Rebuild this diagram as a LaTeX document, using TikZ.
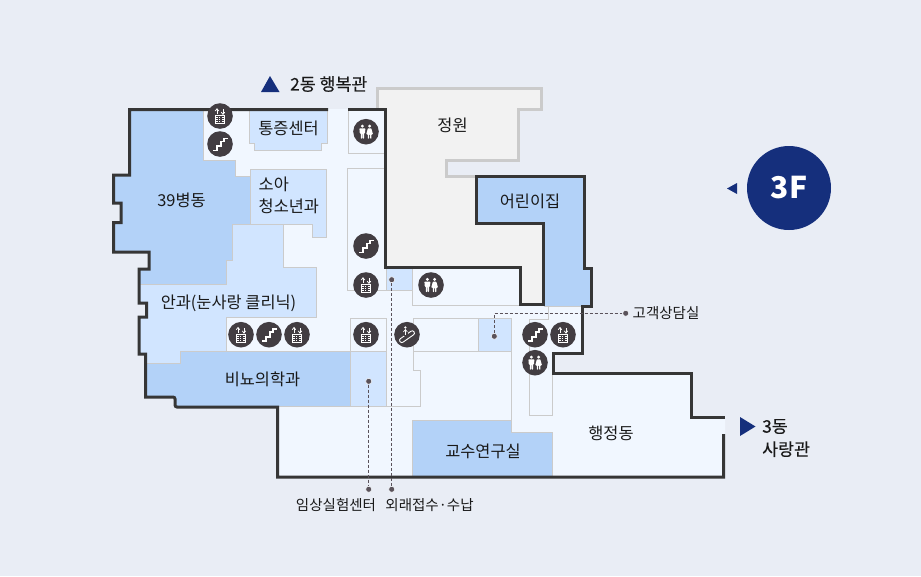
\documentclass[tikz,border=0pt]{standalone}
\usepackage{fontspec}
\setmainfont{Noto Sans CJK KR}
\newfontfamily\medfont[FakeBold=0.35]{Noto Sans CJK KR}
\definecolor{bg}{HTML}{E9EDF5}
\definecolor{inner}{HTML}{F1F7FF}
\definecolor{dkblue}{HTML}{B3D2F8}
\definecolor{ltblue}{HTML}{D1E5FF}
\definecolor{garden}{HTML}{F2F2F2}
\definecolor{grayline}{HTML}{CBCBCB}
\definecolor{wall}{HTML}{363636}
\definecolor{iconbg}{HTML}{423D42}
\definecolor{navy}{HTML}{152F7C}
\definecolor{lead}{HTML}{5A525A}
\tikzset{
  x=1pt,y=-1pt,
  wallline/.style={draw=wall,line width=3pt,line join=miter},
  room/.style={draw=grayline,line width=1pt},
  iconc/.style={circle,fill=iconbg,minimum size=25.6pt,inner sep=0pt,draw=none},
  lbl/.style={font=\fontsize{16.4}{22}\selectfont,text=black!90,inner sep=0pt,align=left},
  bigl/.style={font=\fontsize{17.3}{23}\selectfont\medfont,text=black!90,inner sep=0pt,align=left},
  smalllbl/.style={font=\fontsize{14.5}{17}\selectfont,text=black!90,inner sep=0pt},
  leaddot/.style={circle,fill=lead,minimum size=6pt,inner sep=0pt,draw=white!60!inner,line width=.5pt},
  leader/.style={draw=lead,line width=1pt,dash pattern=on 3pt off 2pt},
  elev/.pic={
    \fill[white] (-4.7,-1.2) rectangle (4.7,7.8);
    \fill[iconbg] (-3.7,.2) rectangle (3.7,1.4);
    \draw[iconbg,line width=.6pt] (-3.7,2.7)--(3.7,2.7) (-3.7,4.4)--(3.7,4.4) (-3.7,6.1)--(3.7,6.1);
    \draw[iconbg,line width=.6pt] (-1.7,1.4)--(-1.7,6.8) (0,1.4)--(0,6.8) (1.7,1.4)--(1.7,6.8);
    \draw[white,line width=.9pt] (-3,-1.8)--(-3,-7) (3,-1.8)--(3,-7);
    \draw[white,line width=.8pt] (-4.7,-5)--(-3,-7.2)--(-1.3,-5) (1.3,-3.8)--(3,-1.6)--(4.7,-3.8);
  },
  stairsicon/.pic={
    \draw[white,line width=1.6pt,line join=miter] (-7,6.5)--(-3,6.5)--(-3,2)--(1,2)--(1,-2.5)--(4,-2.5)--(4,-5.5)--(7.5,-5.5);
  },
  wcicon/.pic={
    \fill[white] (-3.6,-5.6) circle (1.6) (3.6,-5.6) circle (1.6);
    \fill[white,rounded corners=.6pt] (-6.6,-3.4)--(-.6,-3.4)--(-1,1.6)--(-2,1.6)--(-2,7)--(-3.3,7)--(-3.3,2)--(-3.9,2)--(-3.9,7)--(-5.2,7)--(-5.2,1.6)--(-6.2,1.6)--cycle;
    \fill[white,rounded corners=.6pt] (1.9,-3.4)--(5.3,-3.4)--(7,2.6)--(5.4,2.6)--(5.4,7)--(4.1,7)--(4.1,2.8)--(3.1,2.8)--(3.1,7)--(1.8,7)--(1.8,2.6)--(.2,2.6)--cycle;
  },
  escicon/.pic={
    \draw[white,line width=.9pt,rounded corners=2pt,shift={(0,2)},rotate=35] (-8.5,-2.2) rectangle (8.5,2.2);
    \fill[iconbg] (-3.2,-2.5) rectangle (.8,1.5);
    \fill[white] (-1.6,-7.2) circle (1.3);
    \draw[white,line width=1.4pt] (-1.6,-5.2)--(-1.6,.5);
    \draw[white,line width=.7pt] (-3.6,-2.7)--(-1.6,-5.2)--(.4,-2.7);
  },
}
\begin{document}
\begin{tikzpicture}
\useasboundingbox (0,0) rectangle (921,576);
\fill[bg] (0,0) rectangle (921,576);
% garden
\filldraw[fill=garden,draw=grayline,line width=3pt] (377.5,109.5)--(377.5,88.5)--(541.5,88.5)--(541.5,109.5)--(518,109.5)--(518,160)--(446.5,160)--(446.5,176.5)--(476.5,176.5)--(476.5,223)--(543.5,223)--(543.5,304)--(520.5,304)--(520.5,267)--(385.5,267)--(385.5,109.5)--cycle;
% interior
\fill[inner] (129.5,109)--(385.5,109)--(385.5,267)--(520.5,267)--(520.5,304)--(543.5,304)--(543.5,306)--(582,306)--(582,353.5)--(553,353.5)--(553,373)--(691.5,373)--(691.5,417)--(725,417)--(725,434)--(723.7,434)--(723.7,477)--(277.5,477)--(277.5,407)--(175,407)--(175,397)--(145.5,397)--(145.5,354)--(139,354)--(139,317)--(146.7,317)--(146.7,303)--(139,303)--(139,269)--(149,269)--(149,252)--(113.5,252)--(113.5,222.5)--(121,222.5)--(121,203)--(113.5,203)--(113.5,175)--(129.5,175)--cycle;
% coloured rooms
\fill[dkblue] (129.5,109.5)--(203.5,109.5)--(203.5,160.7)--(235,160.7)--(235,176.7)--(250.7,176.7)--(250.7,224.3)--(232.7,224.3)--(232.7,260)--(226,260)--(226,284)--(140,284)--(140,269)--(149,269)--(149,252)--(113.5,252)--(113.5,222.5)--(121,222.5)--(121,203)--(113.5,203)--(113.5,175)--(129.5,175)--cycle;
\draw[grayline,line width=1pt] (203.5,109.5)--(203.5,160.7)--(235,160.7)--(235,176.7)--(250.7,176.7);
\filldraw[room,fill=ltblue] (232.7,224.3)--(283.7,224.3)--(283.7,267.3)--(316.7,267.3)--(316.7,317.3)--(226.7,317.3)--(226.7,351)--(180.3,351)--(180.3,363.3)--(146,363.3)--(146,354)--(139,354)--(139,317)--(146.7,317)--(146.7,303)--(139,303)--(139,284)--(226,284)--(226,260)--(232.7,260)--cycle;
\filldraw[room,fill=ltblue] (250.7,169.3)--(326.7,169.3)--(326.7,237.3)--(312.7,237.3)--(312.7,224.3)--(250.7,224.3)--cycle;
\filldraw[room,fill=ltblue] (249.3,109)--(327.7,109)--(327.7,143.3)--(321.7,143.3)--(321.7,150.3)--(254.3,150.3)--(254.3,143.3)--(249.3,143.3)--cycle;
\filldraw[room,fill=dkblue] (180.3,351)--(350.3,351)--(350.3,406.3)--(175,406.3)--(175,397)--(145.5,397)--(145.5,363.3)--(180.3,363.3)--cycle;
\filldraw[room,fill=ltblue] (350.3,351)--(386.7,351)--(386.7,406.3)--(350.3,406.3)--cycle;
\filldraw[room,fill=ltblue] (386.7,268)--(412.3,268)--(412.3,290.7)--(386.7,290.7)--cycle;
\filldraw[room,fill=ltblue] (478.3,318.3)--(511.7,318.3)--(511.7,351.3)--(478.3,351.3)--cycle;
\filldraw[room,fill=dkblue] (412.3,477)--(412.3,420.7)--(511.7,420.7)--(511.7,432.3)--(552.7,432.3)--(552.7,477)--cycle;
\filldraw[room,fill=dkblue,draw=none] (476.5,176.5)--(584,176.5)--(584,268)--(591.5,268)--(591.5,306)--(543.5,306)--(543.5,223)--(476.5,223)--cycle;
% thin lines
\draw[room] (348.3,109)--(348.3,153.3)--(385,153.3);
\draw[room] (385,168.3)--(347.3,168.3)--(347.3,290.7)--(386.7,290.7);
\draw[room] (412.3,290.7)--(412.3,305.5)--(520.5,305.5);
\draw[room] (226.7,351)--(350.3,351);
\draw[room] (350.3,351)--(350.3,318.3)--(386.7,318.3)--(386.7,351);
\draw[room] (386.7,406.3)--(420.7,406.3)--(420.7,370.3)--(413.3,370.3)--(413.3,318.3)--(478.3,318.3);
\draw[room] (413.3,351.3)--(478.3,351.3);
\draw[room] (511.7,351.3)--(511.7,420.7);
\draw[room] (543.5,306)--(582,306);
\draw[room] (548.3,306)--(548.3,319.3)--(529.3,319.3)--(529.3,415.3)--(552.7,415.3)--(552.7,373);
% walls
\draw[wallline] (348,109.5)--(385.5,109.5)--(385.5,267)--(520.5,267)--(520.5,304)--(543.5,304)--(543.5,223)--(476.5,223)--(476.5,176.5)--(584,176.5)--(584,268)--(591.5,268)--(591.5,306)--(582,306)--(582,353.5)--(553,353.5)--(553,373)--(691.5,373)--(691.5,417)--(725,417);
\draw[wallline] (723.7,434)--(723.7,477)--(277.5,477)--(277.5,407)--(178,407)[rounded corners=2pt]--(175,407)--(175,397)[sharp corners]--(145.5,397)--(145.5,354)--(139,354)--(139,317)--(146.7,317)--(146.7,303)--(139,303)--(139,269)--(149,269)--(149,252)--(113.5,252)--(113.5,222.5)--(121,222.5)--(121,203)--(113.5,203)--(113.5,175)--(129.5,175)--(129.5,109.5)--(328,109.5);
% icons
\node[iconc] (ic1) at (220,116) {}; \pic at (ic1) {elev};
\node[iconc] (ic2) at (220,144) {}; \pic at (ic2) {stairsicon};
\node[iconc] (ic3) at (366,131.7) {}; \pic at (ic3) {wcicon};
\node[iconc] (ic4) at (366,246) {}; \pic at (ic4) {stairsicon};
\node[iconc] (ic5) at (366,285) {}; \pic at (ic5) {elev};
\node[iconc] (ic6) at (431,285) {}; \pic at (ic6) {wcicon};
\node[iconc] (ic7) at (241,334.7) {}; \pic at (ic7) {elev};
\node[iconc] (ic8) at (269,334.7) {}; \pic at (ic8) {stairsicon};
\node[iconc] (ic9) at (297,334.7) {}; \pic at (ic9) {elev};
\node[iconc] (ic10) at (366,334.7) {}; \pic at (ic10) {elev};
\node[iconc] (ic11) at (407,334.7) {}; \pic at (ic11) {escicon};
\node[iconc] (ic12) at (535,334.7) {}; \pic at (ic12) {stairsicon};
\node[iconc] (ic13) at (563,334.7) {}; \pic at (ic13) {elev};
\node[iconc] (ic14) at (535,362.7) {}; \pic at (ic14) {wcicon};
% leaders
\node[leaddot] (d1) at (391.7,279.7) {};
\node[leaddot] (d1b) at (391.7,489.3) {};
\node[leaddot] (d2) at (368.7,381.3) {};
\node[leaddot] (d2b) at (368.7,489.3) {};
\node[leaddot] (d3) at (494.3,336.3) {};
\node[leaddot] (d3b) at (625.7,313.3) {};
\draw[leader] (d1)--(d1b);
\draw[leader] (d2)--(d2b);
\draw[leader] (d3)|-(d3b);
% labels
\node[lbl] (t1) at (288.5,128) {통증센터};
\node[lbl,anchor=west] (t2) at (258.5,195) {소아\\청소년과};
\node[lbl] (t3) at (181.5,200.5) {39병동};
\node[lbl] (t4) at (228.5,303.5) {안과(눈사랑 클리닉)};
\node[lbl] (t5) at (262.5,379.5) {비뇨의학과};
\node[lbl] (t6) at (452.5,125) {정원};
\node[lbl] (t7) at (530,201.5) {어린이집};
\node[lbl] (t8) at (611,433.5) {행정동};
\node[lbl] (t9) at (483,451.5) {교수연구실};
\node[smalllbl,anchor=west] (t10) at (632.5,313.5) {고객상담실};
\node[smalllbl] (t11) at (336,505) {임상실험센터};
\node[smalllbl] (t12) at (429.5,505) {외래접수·수납};
% direction marks
\fill[navy] (261,92)--(270,76)--(279.5,92)--cycle;
\node[bigl,anchor=west] (t13) at (290,84) {2동 행복관};
\fill[navy] (740,417)--(755.5,426.5)--(740,436)--cycle;
\node[bigl,anchor=west] (t14) at (762,438) {3동\\사랑관};
\fill[navy] (737,183)--(727,188.5)--(737,194)--cycle;
\node[circle,fill=navy,minimum size=84pt,inner sep=0pt,text=white,font=\fontsize{30}{36}\selectfont\bfseries] (floor) at (789,188) {3F};
\end{tikzpicture}
\end{document}
